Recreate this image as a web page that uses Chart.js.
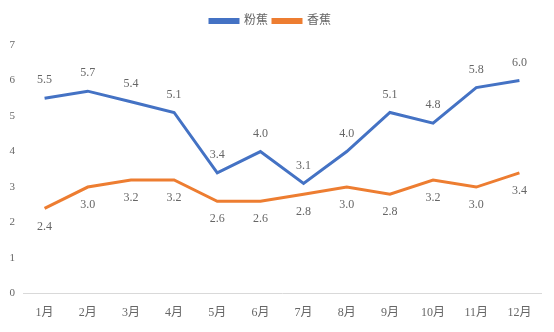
<!DOCTYPE html>
<html>
<head>
<meta charset="utf-8">
<script src="https://cdn.jsdelivr.net/npm/chart.js@4.4.1/dist/chart.umd.min.js"></script>
<style>
  html, body { margin: 0; padding: 0; background: #fff; }
  #wrap { width: 554px; height: 332px; position: relative; }
</style>
</head>
<body>
<div id="wrap"><canvas id="lineChart"></canvas></div>
<script>
// ── Data ──
const months  = ["1月","2月","3月","4月","5月","6月","7月","8月","9月","10月","11月","12月"];
const fenjiao = [5.5, 5.7, 5.4, 5.1, 3.4, 4.0, 3.1, 4.0, 5.1, 4.8, 5.8, 6.0];
const xiangjiao = [2.4, 3.0, 3.2, 3.2, 2.6, 2.6, 2.8, 3.0, 2.8, 3.2, 3.0, 3.4];
const seriesNames = ["粉蕉", "香蕉"];

const FONT = "'Liberation Serif', 'Noto Sans CJK SC', serif";
const GRAY = "#666";

// value labels: first series above, second below
const valueLabels = {
  id: "valueLabels",
  afterDatasetsDraw(chart) {
    const ctx = chart.ctx;
    ctx.save();
    ctx.font = "12px " + FONT;
    ctx.fillStyle = GRAY;
    ctx.textAlign = "center";
    ctx.textBaseline = "middle";
    chart.data.datasets.forEach((ds, i) => {
      const meta = chart.getDatasetMeta(i);
      meta.data.forEach((pt, j) => {
        const dy = i === 0 ? -18 : 18;
        ctx.fillText(ds.data[j].toFixed(1), pt.x, pt.y + dy);
      });
    });
    ctx.restore();
  }
};

// extra gap under legend
const legendGap = {
  id: "legendGap",
  beforeInit(chart) {
    const fit = chart.legend.fit;
    chart.legend.fit = function () {
      fit.bind(chart.legend)();
      this.height += 8;
    };
  }
};

new Chart(document.getElementById("lineChart"), {
  type: "line",
  data: {
    labels: months,
    datasets: [
      { label: seriesNames[0], data: fenjiao, borderColor: "#4472c4", backgroundColor: "#4472c4",
        borderWidth: 3, pointRadius: 0, tension: 0 },
      { label: seriesNames[1], data: xiangjiao, borderColor: "#ed7d31", backgroundColor: "#ed7d31",
        borderWidth: 3, pointRadius: 0, tension: 0 }
    ]
  },
  options: {
    responsive: true,
    maintainAspectRatio: false,
    animation: false,
    layout: { padding: { left: 0, right: 13, top: 10, bottom: 0 } },
    plugins: {
      legend: {
        position: "top",
        labels: {
          boxWidth: 28, boxHeight: 3, padding: 5,
          color: GRAY, font: { family: FONT, size: 12 }
        }
      },
      tooltip: { enabled: false }
    },
    scales: {
      x: {
        offset: true,
        grid: { display: false, drawTicks: false },
        border: { color: "#d9d9d9", width: 1 },
        ticks: { color: GRAY, font: { family: FONT, size: 12 }, padding: 12 }
      },
      y: {
        min: 0, max: 7,
        grid: { display: false, drawTicks: false },
        border: { display: false },
        afterFit: s => { s.width = 23; },
        ticks: { stepSize: 1, color: GRAY, font: { family: FONT, size: 11 }, padding: 8 }
      }
    }
  },
  plugins: [valueLabels, legendGap]
});
</script>
</body>
</html>
